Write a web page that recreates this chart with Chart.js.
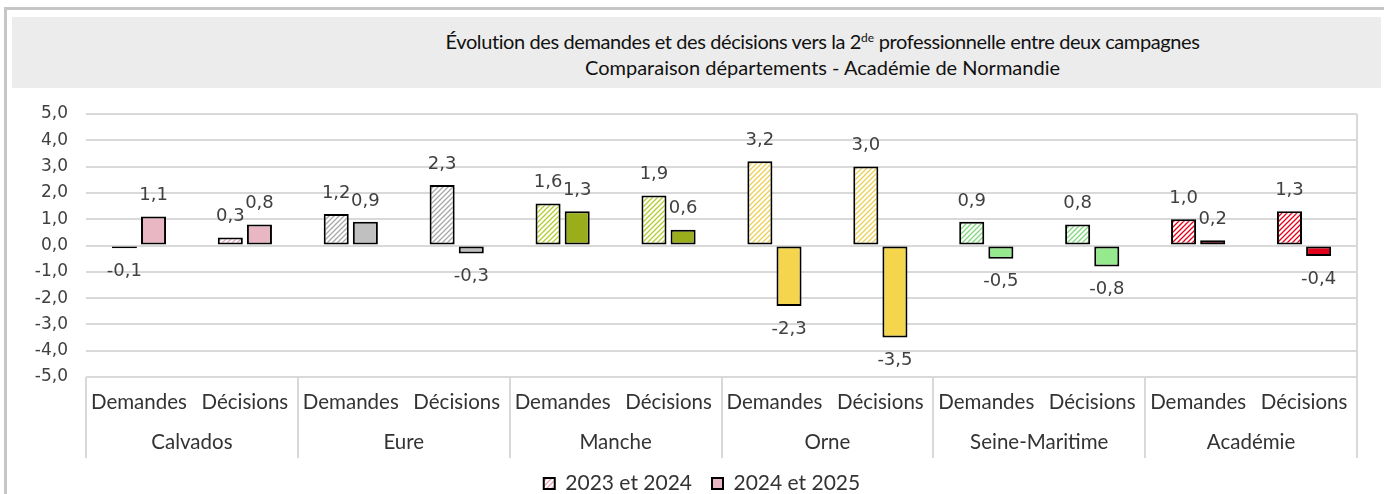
<!DOCTYPE html>
<html lang="fr">
<head>
<meta charset="utf-8">
<script src="https://cdn.jsdelivr.net/npm/chart.js@4/dist/chart.umd.min.js"></script>
<style>
  html, body { margin: 0; padding: 0; background: #fff; }
  #wrap { position: relative; width: 1384px; height: 494px; overflow: hidden; }
  #frameTop { position: absolute; left: 4px; top: 7px; width: 1380px; height: 3px; background: #c6c6c6; }
  #frameLeft { position: absolute; left: 4px; top: 7px; width: 3px; height: 487px; background: #c6c6c6; }
  #title { position: absolute; left: 12px; top: 17px; width: 1369px; height: 71px; background: #ececec;
    font-family: Lato, "Open Sans", sans-serif; font-size: 20px; color: #111; text-align: center;
    line-height: 26px; padding-top: 11px; padding-left: 252px; box-sizing: border-box; }
  #title .l1 { letter-spacing: -0.4px; }
  #title sup { font-size: 12px; line-height: 0; vertical-align: 7px; letter-spacing: 0; }
  canvas { position: absolute; left: 0; top: 0; }
</style>
</head>
<body>
<div id="wrap">
  <div id="frameTop"></div>
  <div id="frameLeft"></div>
  <canvas id="c" width="1384" height="494"></canvas>
  <div id="title"><span class="l1">Évolution des demandes et des décisions vers la 2<sup>de</sup> professionnelle entre deux campagnes</span><br>Comparaison départements - Académie de Normandie</div>
</div>
<script>
// ---- data ----
const groups = ['Calvados', 'Eure', 'Manche', 'Orne', 'Seine-Maritime', 'Académie'];
const subLabels = ['Demandes', 'Décisions'];
const seriesNames = ['2023 et 2024', '2024 et 2025'];
const values2023_2024 = [-0.1, 0.3, 1.2, 2.3, 1.6, 1.9, 3.2, 3.0, 0.9, 0.8, 1.0, 1.3];
const values2024_2025 = [1.1, 0.8, 0.9, -0.3, 1.3, 0.6, -2.3, -3.5, -0.5, -0.8, 0.2, -0.4];
const yMin = -5, yMax = 5, yStep = 1;

// ---- styles ----
const solidColors = ['#e8b7c3', '#c0c0c0', '#9aae1c', '#f4d54b', '#95ea8e', '#e2001a'];
const hatchColors = ['#e2a6b5', '#a8a8a8', '#b4cc30', '#ecd055', '#7fd87a', '#e2001a'];

const categories = [];
groups.forEach(() => subLabels.forEach(s => categories.push(s)));

function hatch(color) {
  const c = document.createElement('canvas');
  c.width = 5; c.height = 5;
  const g = c.getContext('2d');
  g.fillStyle = '#ffffff';
  g.fillRect(0, 0, 5, 5);
  g.strokeStyle = color;
  g.lineWidth = 1.3;
  g.beginPath();
  g.moveTo(0, 5); g.lineTo(5, 0);
  g.moveTo(-1, 1); g.lineTo(1, -1);
  g.moveTo(4, 6); g.lineTo(6, 4);
  g.stroke();
  return g.createPattern(c, 'repeat');
}

const ctx = document.getElementById('c').getContext('2d');
const hatchFills = categories.map((_, i) => hatch(hatchColors[Math.floor(i / 2)]));
const solidFills = categories.map((_, i) => solidColors[Math.floor(i / 2)]);

const fmt = v => v.toFixed(1).replace('.', ',');

const labelPlugin = {
  id: 'valueLabels',
  afterDatasetsDraw(chart) {
    const g = chart.ctx;
    g.save();
    g.font = '18px "DejaVu Sans"';
    g.fillStyle = '#404040';
    g.textAlign = 'center';
    g.textBaseline = 'middle';
    chart.data.datasets.forEach((ds, di) => {
      const meta = chart.getDatasetMeta(di);
      meta.data.forEach((bar, i) => {
        const v = ds.data[i];
        const y = v >= 0 ? bar.y - 21 : bar.y + 23;
        g.fillText(fmt(v), bar.x, y);
      });
    });
    g.restore();
  }
};

const separatorPlugin = {
  id: 'separators',
  afterDraw(chart) {
    const g = chart.ctx;
    const x = chart.scales.x, x2 = chart.scales.x2, ca = chart.chartArea;
    const bottom = x2.top + 39;
    g.save();
    g.strokeStyle = '#d9d9d9';
    g.lineWidth = 2;
    g.beginPath();
    const n = groups.length;
    for (let k = 0; k <= n; k++) {
      const px = Math.round(x.left + k * (x.width / n));
      g.moveTo(px, ca.bottom);
      g.lineTo(px, bottom);
    }
    g.moveTo(ca.right, ca.top);
    g.lineTo(ca.right, ca.bottom);
    g.stroke();
    g.restore();
  }
};

new Chart(ctx, {
  type: 'bar',
  data: {
    labels: categories,
    datasets: [
      { label: seriesNames[0], data: values2023_2024, backgroundColor: hatchFills,
        borderColor: '#000', borderWidth: 2, borderSkipped: false,
        categoryPercentage: 0.55, barPercentage: 0.86 },
      { label: seriesNames[1], data: values2024_2025, backgroundColor: solidFills,
        borderColor: '#000', borderWidth: 2, borderSkipped: false,
        categoryPercentage: 0.55, barPercentage: 0.86 }
    ]
  },
  options: {
    responsive: false,
    animation: false,
    layout: { padding: { top: 114, right: -20, left: 0, bottom: -10 } },
    plugins: {
      legend: {
        position: 'bottom',
        labels: {
          boxWidth: 11, boxHeight: 11, padding: 20,
          color: '#333333',
          font: { family: 'Lato', size: 21 }
        }
      },
      tooltip: { enabled: false },
      title: { display: false }
    },
    scales: {
      y: {
        min: yMin, max: yMax,
        afterFit: s => { s.width = 86; },
        ticks: { stepSize: yStep, padding: 18, color: '#404040',
          font: { family: 'DejaVu Sans', size: 17 },
          callback: v => fmt(v) },
        grid: { color: '#d9d9d9', lineWidth: 2, drawTicks: false },
        border: { display: false }
      },
      yRight: {
        type: 'linear',
        position: 'right',
        min: yMin, max: yMax,
        afterFit: s => { s.width = 47; },
        ticks: { display: false },
        grid: { display: false },
        border: { display: false }
      },
      x: {
        offset: true,
        afterFit: s => { s.height = 42; },
        ticks: { padding: 5, color: '#333333', maxRotation: 0, autoSkip: false,
          font: { family: 'Lato', size: 20.5 } },
        grid: { display: false },
        border: { display: false }
      },
      x2: {
        type: 'category',
        position: 'bottom',
        labels: groups,
        offset: true,
        weight: 1,
        afterFit: s => { s.height = 34; },
        ticks: { padding: 3, color: '#333333', maxRotation: 0, autoSkip: false,
          font: { family: 'Lato', size: 20.5 } },
        grid: { display: false },
        border: { display: false }
      }
    }
  },
  plugins: [labelPlugin, separatorPlugin]
});
</script>
</body>
</html>
